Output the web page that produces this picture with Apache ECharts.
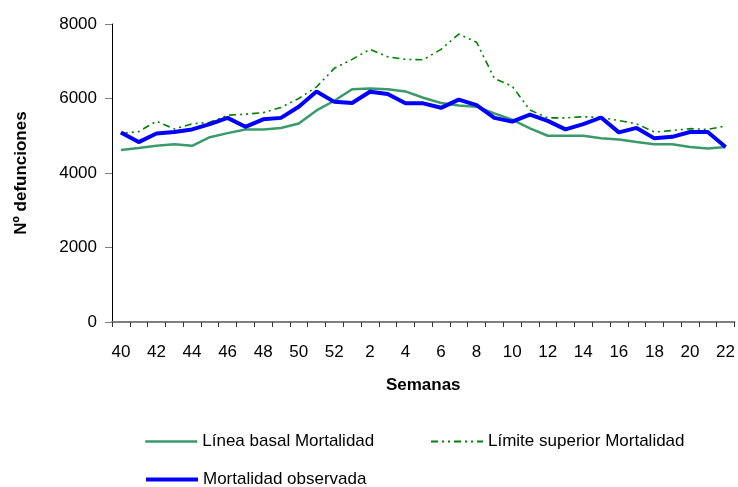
<!DOCTYPE html>
<html>
<head>
<meta charset="utf-8">
<script src="https://cdn.jsdelivr.net/npm/echarts@6/dist/echarts.min.js"></script>
<style>
  html, body { margin: 0; padding: 0; background: #fff; }
  #chart { width: 738px; height: 487px; }
</style>
</head>
<body>
<div id="chart"></div>
<script>
// Epidemiological weeks 40-52 followed by 1-22
const weeks = ['40','41','42','43','44','45','46','47','48','49','50','51','52',
  '1','2','3','4','5','6','7','8','9','10','11','12','13','14','15','16','17','18','19','20','21','22'];

const basal = [4620, 4670, 4730, 4770, 4730, 4960, 5070, 5170, 5170, 5210, 5330, 5680, 5940,
  6250, 6270, 6250, 6190, 6020, 5880, 5810, 5780, 5600, 5430, 5200, 5000, 5000, 5000, 4930,
  4900, 4830, 4770, 4770, 4700, 4660, 4700];

const upper = [5060, 5110, 5390, 5180, 5320, 5360, 5550, 5580, 5620, 5760, 6000, 6310, 6810,
  7050, 7320, 7120, 7050, 7040, 7320, 7730, 7510, 6540, 6330, 5690, 5480, 5480, 5510, 5490,
  5410, 5320, 5100, 5140, 5190, 5170, 5260];

const observed = [5090, 4830, 5060, 5100, 5170, 5310, 5480, 5240, 5440, 5480, 5780, 6190, 5910,
  5880, 6180, 6120, 5870, 5870, 5750, 5970, 5820, 5480, 5380, 5570, 5400, 5170, 5310, 5490,
  5090, 5210, 4930, 4970, 5100, 5100, 4700];

const yTicks = { min: 0, max: 8000, interval: 2000 };

const FONT = 'Liberation Sans, Arial, sans-serif';
const chart = echarts.init(document.getElementById('chart'), null, { renderer: 'canvas' });

// legend shows only the line sample, no marker
function legendFor(name, left, top, lineWidth) {
  return {
    data: [name],
    left: left,
    top: top,
    orient: 'horizontal',
    itemWidth: 52,
    itemHeight: 14,
    itemStyle: { opacity: 0 },
    lineStyle: { width: lineWidth },
    textStyle: { fontFamily: FONT, fontSize: 17, color: '#000' }
  };
}

chart.setOption({
  animation: false,
  backgroundColor: '#fff',
  grid: { left: 112, right: 2, top: 24, bottom: 165, containLabel: false },
  legend: [
    legendFor('Línea basal Mortalidad', 139, 428, 2.5),
    legendFor('Límite superior Mortalidad', 425, 428, 2),
    legendFor('Mortalidad observada', 139, 466, 4)
  ],
  xAxis: {
    type: 'category',
    data: weeks,
    boundaryGap: true,
    name: 'Semanas',
    nameLocation: 'middle',
    nameGap: 55,
    nameTextStyle: { fontFamily: FONT, fontSize: 17, fontWeight: 'bold', color: '#000' },
    axisLine: { lineStyle: { color: '#808080', width: 2 } },
    axisTick: { show: true, interval: 0, length: 5, lineStyle: { color: '#333', width: 1 } },
    axisLabel: { interval: 1, margin: 22, fontFamily: FONT, fontSize: 17, color: '#000' },
    splitLine: { show: false }
  },
  yAxis: {
    type: 'value',
    min: yTicks.min,
    max: yTicks.max,
    interval: yTicks.interval,
    name: 'Nº defunciones',
    nameLocation: 'middle',
    nameGap: 82,
    nameRotate: 90,
    nameTextStyle: { fontFamily: FONT, fontSize: 17, fontWeight: 'bold', color: '#000' },
    axisLine: { show: true, lineStyle: { color: '#000', width: 1 } },
    axisTick: { show: true, length: 7, lineStyle: { color: '#808080', width: 1 } },
    axisLabel: { margin: 15, fontFamily: FONT, fontSize: 17, color: '#000', formatter: v => String(v) },
    splitLine: { show: false }
  },
  series: [
    {
      name: 'Línea basal Mortalidad',
      type: 'line',
      data: basal,
      symbol: 'none',
      lineStyle: { color: '#3a9a6a', width: 2.5 },
      itemStyle: { color: '#3a9a6a' },
      z: 2
    },
    {
      name: 'Límite superior Mortalidad',
      type: 'line',
      data: upper,
      symbol: 'none',
      lineStyle: { color: '#008000', width: 1.6, type: [7, 4, 2, 4, 2, 4] },
      itemStyle: { color: '#008000' },
      z: 3
    },
    {
      name: 'Mortalidad observada',
      type: 'line',
      data: observed,
      symbol: 'none',
      lineStyle: { color: '#0000ff', width: 4 },
      itemStyle: { color: '#0000ff' },
      z: 4
    }
  ]
});
</script>
</body>
</html>
